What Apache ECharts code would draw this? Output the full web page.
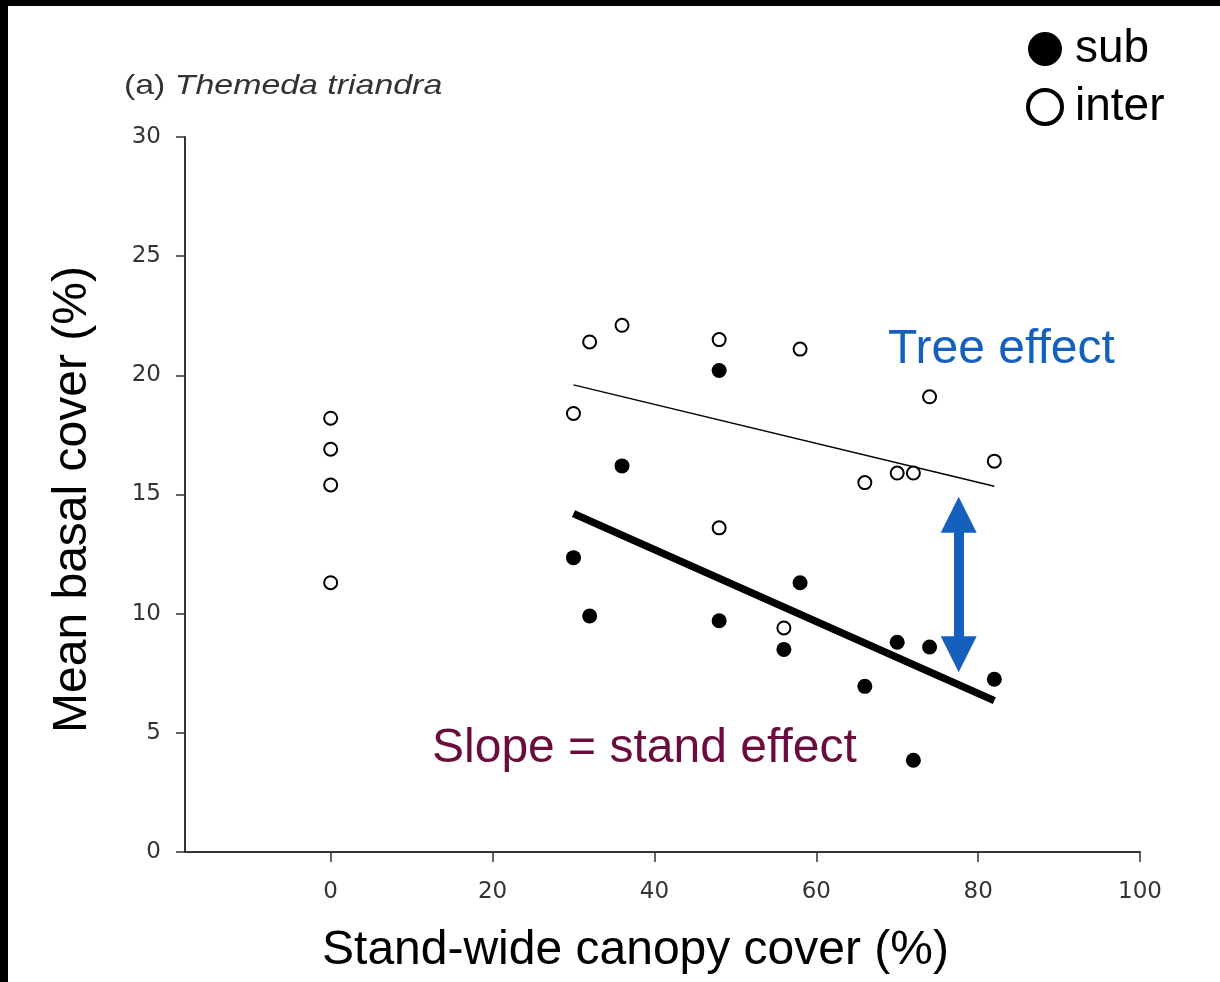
<!DOCTYPE html>
<html>
<head>
<meta charset="utf-8">
<title>Themeda triandra basal cover</title>
<script src="https://cdn.jsdelivr.net/npm/echarts@6/dist/echarts.min.js"></script>
<style>
  html, body { margin: 0; padding: 0; background: #fff; }
  #chart { width: 1220px; height: 982px; }
</style>
</head>
<body>
<div id="chart"></div>
<script>
// Stand-wide canopy cover (%) and mean basal cover (%) per plot
const canopyInter = [0, 0, 0, 0, 30, 32, 36, 48, 48, 56, 58, 66, 70, 72, 74, 82];
const coverInter  = [18.2, 16.9, 15.4, 11.3, 18.4, 21.4, 22.1, 21.5, 13.6, 9.4, 21.1, 15.5, 15.9, 15.9, 19.1, 16.4];

const canopySub = [30, 32, 36, 48, 48, 56, 58, 66, 70, 72, 74, 82];
const coverSub  = [12.35, 9.9, 16.2, 20.2, 9.7, 8.5, 11.3, 6.95, 8.8, 3.85, 8.6, 7.25];

// Fitted regression lines over the wooded stands
const fitCanopy = [30, 82];
const fitSub    = [14.2, 6.35];
const fitInter  = [19.6, 15.35];

// Tree effect arrow (canopy position, upper and lower ends)
const arrowCanopy = 77.6;
const arrowEnds   = [14.15, 8.3];

const xTicks = [0, 20, 40, 60, 80, 100];

const pairs = (xs, ys) => xs.map((x, i) => [x, ys[i]]);

const BASE_FONT = 'Arial, "Liberation Sans", sans-serif';
const TICK_FONT = '"DejaVu Sans", Arial, sans-serif';
const BLUE = '#1560bd';

const chart = echarts.init(document.getElementById('chart'), null, { renderer: 'canvas' });

chart.setOption({
  backgroundColor: '#ffffff',
  animation: false,
  legend: {
    orient: 'vertical',
    left: 1026,
    top: 26,
    itemWidth: 34,
    itemHeight: 34,
    itemGap: 12,
    padding: 0,
    icon: 'circle',
    selectedMode: false,
    textStyle: { fontFamily: BASE_FONT, fontSize: 46, color: '#000', padding: [0, 0, 0, 8] },
    data: [
      { name: 'sub', itemStyle: { color: '#000', borderWidth: 0, opacity: 1 } },
      { name: 'inter', itemStyle: { color: '#fff', borderColor: '#000', borderWidth: 4, opacity: 1 } }
    ]
  },
  grid: {
    left: 185,
    right: 80,
    top: 137,
    bottom: 130,
    outerBoundsMode: 'none'
  },
  xAxis: {
    type: 'value',
    min: -18,
    max: 100,
    name: 'Stand-wide canopy cover (%)',
    nameLocation: 'middle',
    nameGap: 75,
    nameTextStyle: { fontFamily: BASE_FONT, fontSize: 48, color: '#000', padding: [0, 54, 0, 0] },
    axisLine: { show: true, onZero: false, lineStyle: { color: '#333', width: 2 } },
    axisTick: { show: true, length: 10, customValues: xTicks, lineStyle: { color: '#333', width: 1.5 } },
    axisLabel: { customValues: xTicks, margin: 29, fontFamily: TICK_FONT, fontSize: 23, color: '#333' },
    splitLine: { show: false }
  },
  yAxis: {
    type: 'value',
    min: 0,
    max: 30,
    interval: 5,
    name: 'Mean basal cover (%)',
    nameLocation: 'middle',
    nameRotate: 90,
    nameGap: 88,
    nameTextStyle: { fontFamily: BASE_FONT, fontSize: 48, color: '#000', padding: [0, 10, 0, 0] },
    axisLine: { show: true, onZero: false, lineStyle: { color: '#333', width: 2 } },
    axisTick: { show: true, length: 9, lineStyle: { color: '#333', width: 1.5 } },
    axisLabel: { margin: 24, fontFamily: TICK_FONT, fontSize: 23, color: '#333' },
    splitLine: { show: false }
  },
  series: [
    {
      name: 'inter fit',
      type: 'line',
      data: pairs(fitCanopy, fitInter),
      showSymbol: false,
      symbol: 'none',
      silent: true,
      lineStyle: { color: '#000', width: 1.5, opacity: 1 },
      z: 2,
      markLine: {
        silent: true,
        symbol: ['triangle', 'triangle'],
        symbolSize: [36, 36],
        label: { show: false },
        lineStyle: { color: BLUE, width: 10, type: 'solid', opacity: 1 },
        itemStyle: { color: BLUE },
        emphasis: { disabled: true },
        data: [[
          { coord: [arrowCanopy, arrowEnds[0]] },
          { coord: [arrowCanopy, arrowEnds[1]] }
        ]]
      }
    },
    {
      name: 'sub fit',
      type: 'line',
      data: pairs(fitCanopy, fitSub),
      showSymbol: false,
      symbol: 'none',
      silent: true,
      lineStyle: { color: '#000', width: 7.5, opacity: 1 },
      z: 2
    },
    {
      name: 'inter',
      type: 'scatter',
      data: pairs(canopyInter, coverInter),
      symbol: 'circle',
      symbolSize: 13,
      itemStyle: { color: '#fff', borderColor: '#000', borderWidth: 2, opacity: 1 },
      z: 3
    },
    {
      name: 'sub',
      type: 'scatter',
      data: pairs(canopySub, coverSub),
      symbol: 'circle',
      symbolSize: 15,
      itemStyle: { color: '#000', borderWidth: 0, opacity: 1 },
      z: 4
    }
  ],
  graphic: [
    // frame strips along the top and left edges
    { type: 'rect', left: 0, top: 0, shape: { width: 1220, height: 6 }, style: { fill: '#000' }, silent: true },
    { type: 'rect', left: 0, top: 0, shape: { width: 8, height: 982 }, style: { fill: '#000' }, silent: true },
    // panel label, set wide like the printed figure
    {
      type: 'text', x: 124, y: 86, scaleX: 1.21, silent: true,
      style: {
        text: '(a) {i|Themeda triandra}',
        font: '28px ' + BASE_FONT,
        fill: '#333',
        textVerticalAlign: 'middle',
        rich: { i: { fontFamily: BASE_FONT, fontSize: 28, fontStyle: 'italic', fill: '#333', color: '#333' } }
      }
    },
    {
      type: 'text', x: 888, y: 350, silent: true,
      style: { text: 'Tree effect', fill: BLUE, font: '48px ' + BASE_FONT, textVerticalAlign: 'middle' }
    },
    {
      type: 'text', x: 432, y: 749, silent: true,
      style: { text: 'Slope = stand effect', fill: '#6a0d3e', font: '48px ' + BASE_FONT, textVerticalAlign: 'middle' }
    }
  ]
});
</script>
</body>
</html>
